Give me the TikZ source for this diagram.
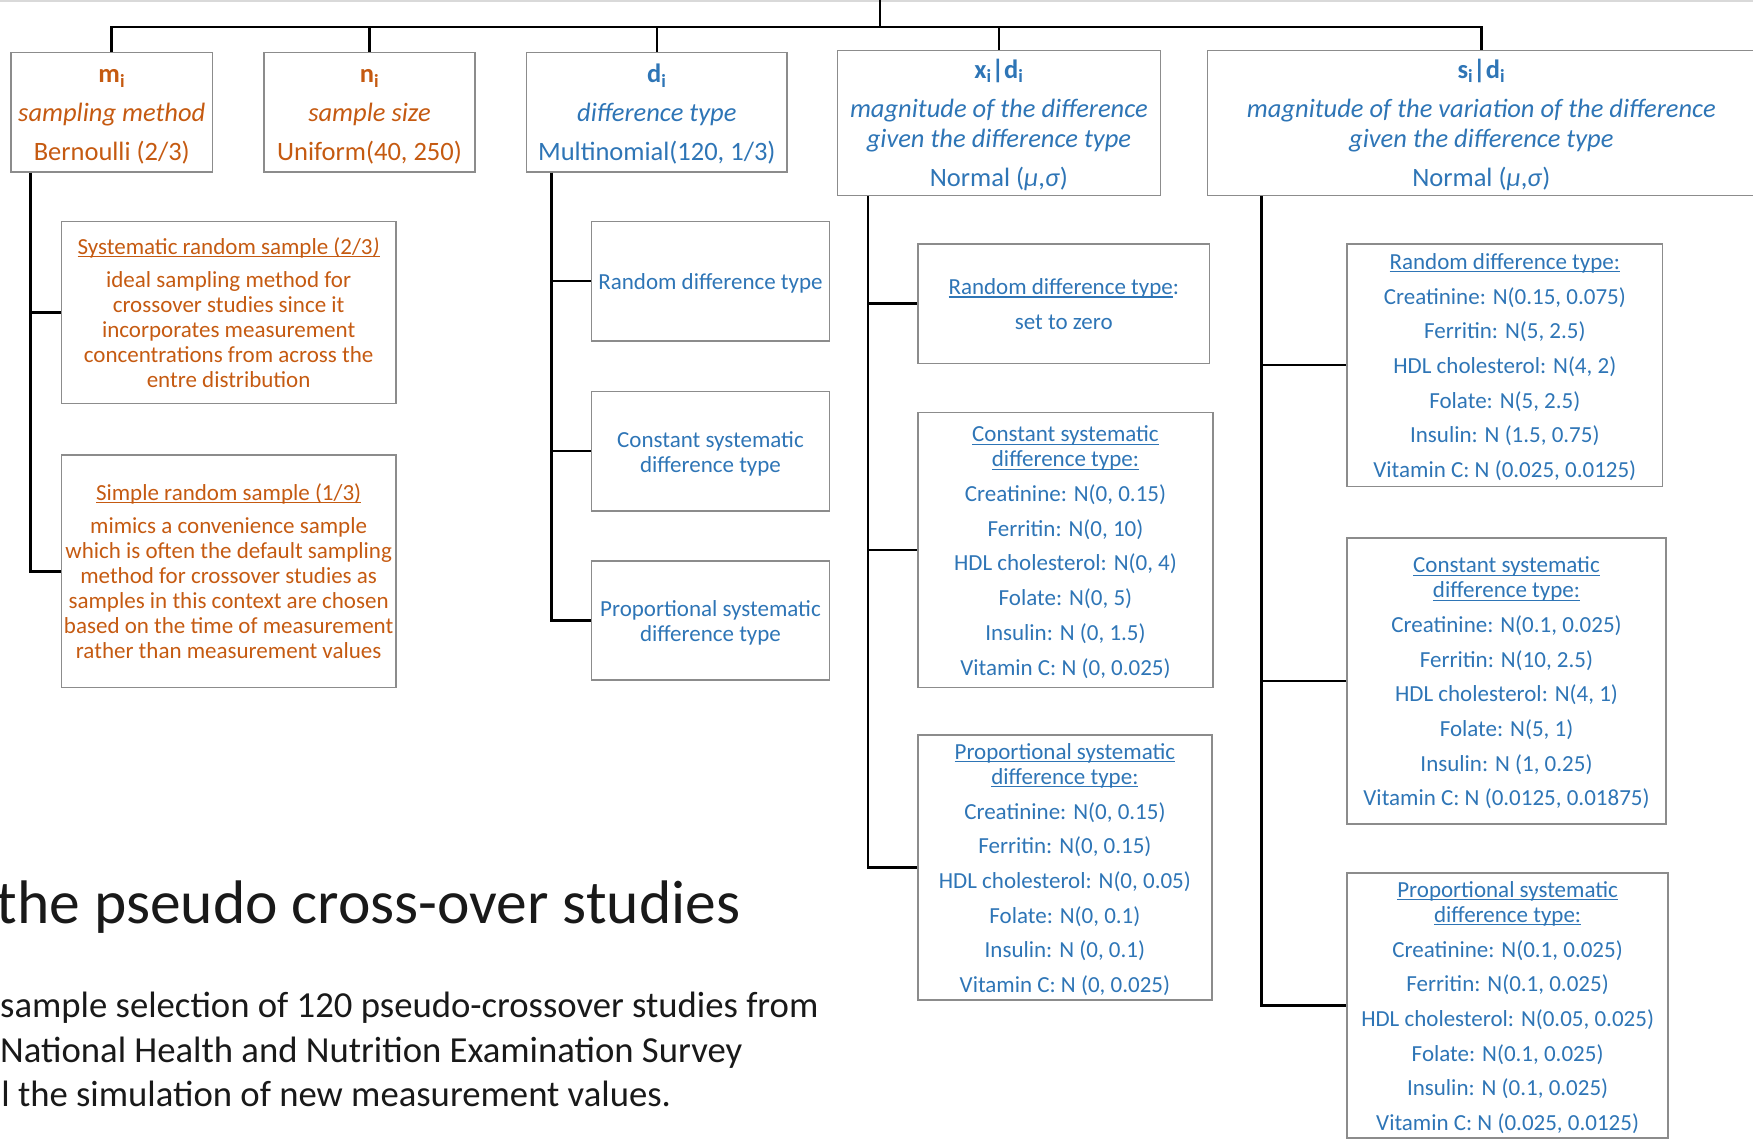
\documentclass[tikz,border=0pt]{standalone}
\usepackage{fontspec}
\setmainfont{Carlito}
\usetikzlibrary{calc}
\definecolor{orng}{HTML}{C55A11}
\definecolor{blu}{HTML}{2E75B6}
\definecolor{boxgray}{HTML}{8C8C8C}
\newcommand\vgap{\\[9.7pt]}
\newcommand\tgap{\\[8.5pt]}
\newcommand\tstrut{\rule{0pt}{24.3pt}}
\newcommand\Tstrut{\rule{0pt}{28pt}}
\newsavebox\ulbox
\newcommand\uln[1]{\sbox\ulbox{#1}\rlap{\rule[-3pt]{\wd\ulbox}{1.1pt}}\usebox\ulbox}
\begin{document}
\begin{tikzpicture}[x=1.118pt,y=-1.118pt,
  box/.style={draw=boxgray, line width=1.6pt, align=center, inner sep=0pt},
  topbox/.style={box, font=\fontsize{26.5}{30}\selectfont},
  detbox/.style={box, font=\fontsize{23}{25}\selectfont},
  otxt/.style={text=orng},
  btxt/.style={text=blu},
  conn/.style={line width=2.6pt, black},
  plain/.style={inner sep=0pt, anchor=base west, text=black!90}]
\useasboundingbox (0,0) rectangle (1568,1018);
\clip (0,0) rectangle (1568,1018);
\draw[gray!30, line width=2pt] (0,0.8) -- (1568,0.8);

% top row
\node[topbox, otxt, minimum width=201.2pt, minimum height=119.6pt] (m) at (100,100.5)
 {\Tstrut\textbf{m\textsubscript{i}}\\[9pt]\textit{sampling method}\\[9pt]Bernoulli (2/3)\strut};
\node[topbox, otxt, minimum width=211.3pt, minimum height=119.6pt] (n) at (330.5,100.5)
 {\Tstrut\textbf{n\textsubscript{i}}\\[9pt]\textit{sample size}\\[9pt]Uniform(40, 250)\strut};
\node[topbox, btxt, minimum width=260.5pt, minimum height=119.6pt] (d) at (587.5,100.5)
 {\Tstrut\textbf{d\textsubscript{i}}\\[9pt]\textit{difference type}\\[9pt]Multinomial(120, 1/3)\strut};
\node[topbox, btxt, minimum width=323.1pt, minimum height=140.9pt] (x) at (893.5,110)
 {\Tstrut\textbf{x\textsubscript{i}|d\textsubscript{i}}\\[9pt]\textit{magnitude of the difference}\\\textit{given the difference type}\\[9pt]Normal (\textit{μ},\textit{σ})\strut};
\node[topbox, btxt, minimum width=547.8pt, minimum height=140.9pt] (s) at (1325,110)
 {\Tstrut\textbf{s\textsubscript{i}|d\textsubscript{i}}\\[9pt]\textit{magnitude of the variation of the difference}\\\textit{given the difference type}\\[9pt]Normal (\textit{μ},\textit{σ})\strut};

% sampling method boxes
\node[detbox, otxt, minimum width=334.3pt, minimum height=182.2pt] (sys) at (204.5,279.5)
 {\tstrut\uln{Systematic random sample (2/3\textit{)}}\tgap ideal sampling method for\\crossover studies since it\\incorporates measurement\\concentrations from across the\\entre distribution\strut};
\node[detbox, otxt, minimum width=334.3pt, minimum height=232.5pt] (simple) at (204.5,511)
 {\tstrut\uln{Simple random sample (1/3)}\tgap mimics a convenience sample\\which is often the default sampling\\method for crossover studies as\\samples in this context are chosen\\based on the time of measurement\\rather than measurement values\strut};

% difference type boxes
\node[detbox, btxt, minimum width=238.1pt, minimum height=119.6pt] (dr) at (635.5,251.5)
 {\tstrut Random difference type\strut};
\node[detbox, btxt, minimum width=238.1pt, minimum height=119.6pt] (dc) at (635.5,403.5)
 {\tstrut Constant systematic\\difference type\strut};
\node[detbox, btxt, minimum width=238.1pt, minimum height=119pt] (dp) at (635.5,555)
 {\tstrut Proportional systematic\\difference type\strut};

% magnitude boxes
\node[detbox, btxt, minimum width=291.8pt, minimum height=119.6pt] (xr) at (951.5,271.5)
 {\tstrut\uln{Random difference type}:\vgap set to zero\strut};
\node[detbox, btxt, minimum width=295.2pt, minimum height=275pt] (xc) at (953,492)
 {\tstrut\uln{Constant systematic}\\\uln{difference type:}\vgap Creatinine: N(0, 0.15)\vgap Ferritin: N(0, 10)\vgap HDL cholesterol: N(0, 4)\vgap Folate: N(0, 5)\vgap Insulin: N (0, 1.5)\vgap Vitamin C: N (0, 0.025)\strut};
\node[detbox, btxt, minimum width=294pt, minimum height=261.6pt] (xp) at (952.5,776)
 {\tstrut\uln{Proportional systematic}\\\uln{difference type:}\vgap Creatinine: N(0, 0.15)\vgap Ferritin: N(0, 0.15)\vgap HDL cholesterol: N(0, 0.05)\vgap Folate: N(0, 0.1)\vgap Insulin: N (0, 0.1)\vgap Vitamin C: N (0, 0.025)\strut};

% variation boxes
\node[detbox, btxt, minimum width=315.3pt, minimum height=242.6pt] (sr) at (1346,326.5)
 {\tstrut\uln{Random difference type:}\vgap Creatinine: N(0.15, 0.075)\vgap Ferritin: N(5, 2.5)\vgap HDL cholesterol: N(4, 2)\vgap Folate: N(5, 2.5)\vgap Insulin: N (1.5, 0.75)\vgap Vitamin C: N (0.025, 0.0125)\strut};
\node[detbox, btxt, minimum width=318.6pt, minimum height=286.2pt] (sc) at (1347.5,609)
 {\tstrut\uln{Constant systematic}\\\uln{difference type:}\vgap Creatinine: N(0.1, 0.025)\vgap Ferritin: N(10, 2.5)\vgap HDL cholesterol: N(4, 1)\vgap Folate: N(5, 1)\vgap Insulin: N (1, 0.25)\vgap Vitamin C: N (0.0125, 0.01875)\strut};
\node[detbox, btxt, minimum width=320.9pt, minimum height=260.5pt] (sp) at (1348.5,899.5)
 {\tstrut\uln{Proportional systematic}\\\uln{difference type:}\vgap Creatinine: N(0.1, 0.025)\vgap Ferritin: N(0.1, 0.025)\vgap HDL cholesterol: N(0.05, 0.025)\vgap Folate: N(0.1, 0.025)\vgap Insulin: N (0.1, 0.025)\vgap Vitamin C: N (0.025, 0.0125)\strut};

% connectors
\coordinate (topend) at (787,0);
\coordinate (bus) at (787,24);
\draw[conn] (topend) -- (bus);
\draw[conn] (m.north) -- (m.north |- bus) -| (s.north);
\draw[conn] (n.north) -- (n.north |- bus);
\draw[conn] (d.north) -- (d.north |- bus);
\draw[conn] (x.north) -- (x.north |- bus);

\coordinate (mt) at ($(m.south west)+(18,0)$);
\draw[conn] (mt) |- (sys.west);
\draw[conn] (mt) |- (simple.west);
\coordinate (dt) at ($(d.south west)+(23,0)$);
\draw[conn] (dt) |- (dr.west);
\draw[conn] (dt) |- (dc.west);
\draw[conn] (dt) |- (dp.west);
\coordinate (xt) at ($(x.south west)+(28,0)$);
\draw[conn] (xt) |- (xr.west);
\draw[conn] (xt) |- (xc.west);
\draw[conn] (xt) |- (xp.west);
\coordinate (st) at ($(s.south west)+(49,0)$);
\draw[conn] (st) |- (sr.west);
\draw[conn] (st) |- (sc.west);
\draw[conn] (st) |- (sp.west);

% bottom text
\node[plain, font=\fontsize{61.5}{70}\selectfont] (head) at (-3,826) {the pseudo cross-over studies};
\node[plain, font=\fontsize{36.7}{44}\selectfont] (b1) at (0,910) {sample selection of 120 pseudo-crossover studies from};
\node[plain, font=\fontsize{36.7}{44}\selectfont] (b2) at (0,950) {National Health and Nutrition Examination Survey};
\node[plain, font=\fontsize{36.7}{44}\selectfont] (b3) at (1,990) {l the simulation of new measurement values.};
\end{tikzpicture}
\end{document}
